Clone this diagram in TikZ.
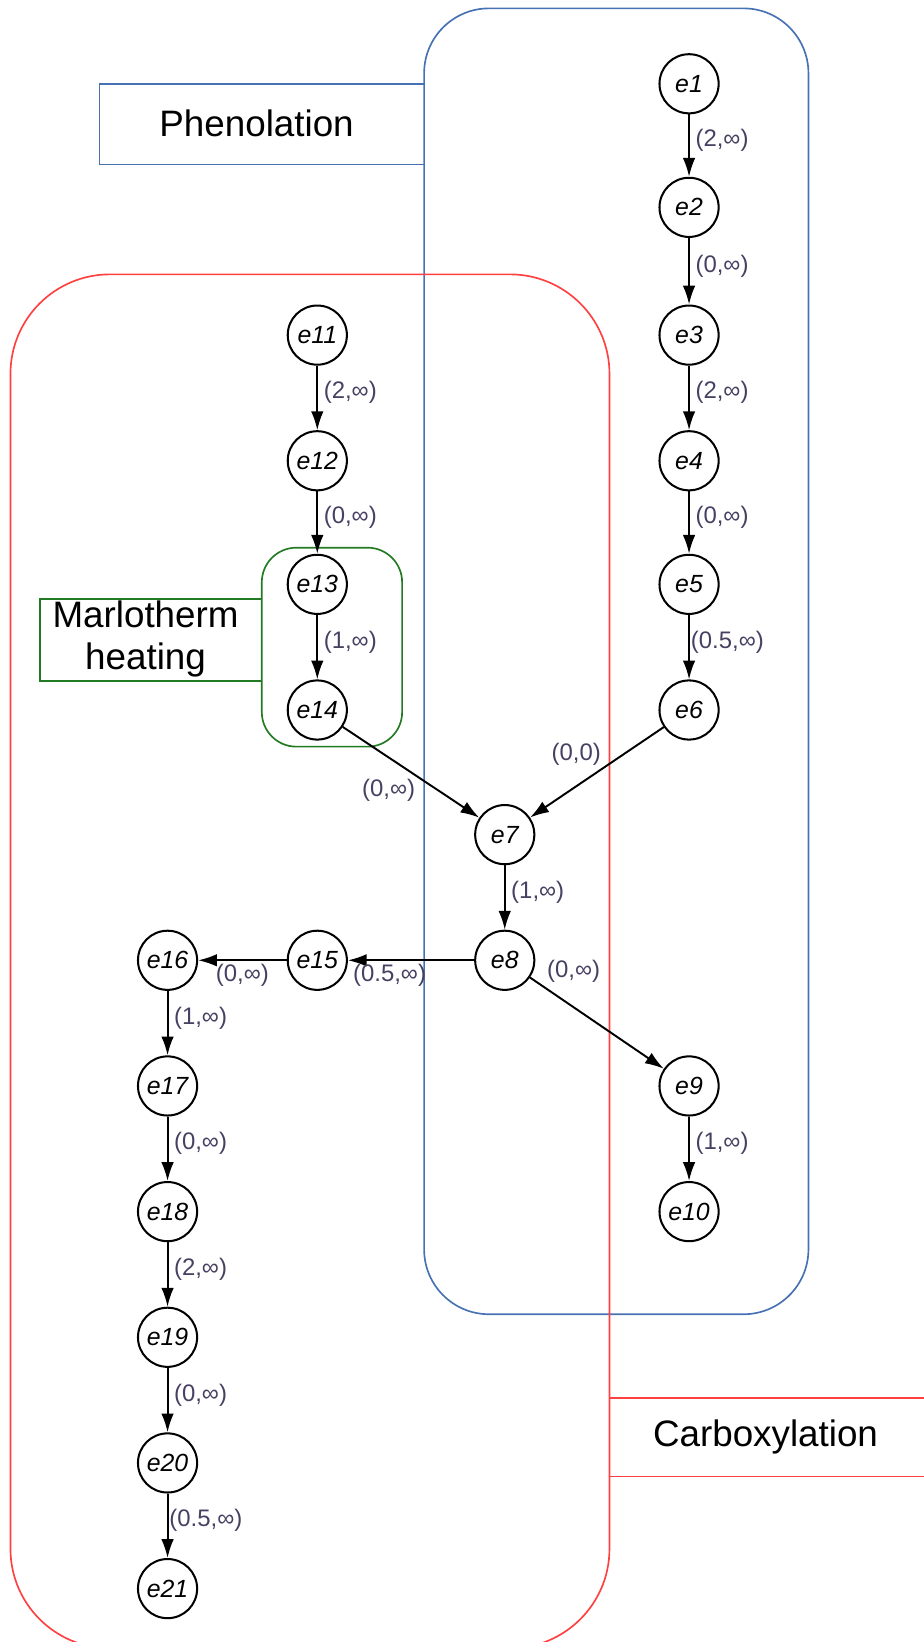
\documentclass[tikz,border=0pt]{standalone}
\usepackage{fontspec}
\setmainfont{Liberation Sans}
\usepackage{xcolor}
\usepackage{tikz}
\usetikzlibrary{arrows.meta}
\usetikzlibrary{positioning}
\definecolor{phenblue}{RGB}{70,114,180}
\definecolor{carbred}{RGB}{255,64,64}
\definecolor{heatgreen}{RGB}{34,122,34}
\definecolor{costtext}{RGB}{72,64,98}
\tikzstyle{ev}=[circle, draw, line width=1.1pt, fill=white, minimum size=1.13cm, inner sep=0pt, font=\fontsize{13.5}{15}\selectfont\itshape]
\tikzstyle{flow}=[-{Latex[length=3.6mm,width=2.4mm]}, line width=1.05pt]
\tikzstyle{cost}=[font=\fontsize{13}{15}\selectfont, text=costtext, inner sep=3pt]
\tikzstyle{stagetext}=[font=\fontsize{20}{23}\selectfont, align=center]
\newcommand{\grpline}{0.9pt}

\begin{document}
\begin{tikzpicture}[x=0.02cm, y=-0.02cm]
\useasboundingbox (0,0) rectangle (882,1568);
% process stages
\draw[phenblue, line width=\grpline, rounded corners=1.24cm] (405,8) rectangle (772,1255);
\draw[phenblue, line width=\grpline] (405,80) -- (95,80) -- (95,157) -- (405,157);
\node[stagetext] (phen) at (245,118) {Phenolation};
\draw[carbred, line width=\grpline, rounded corners=1.9cm] (10,262) rectangle (582,1574);
\draw[carbred, line width=\grpline] (582,1335) -- (900,1335);
\draw[carbred, line width=\grpline] (582,1410) -- (900,1410);
\node[stagetext] (carb) at (731,1372) {Carboxylation};
\draw[heatgreen, line width=\grpline, rounded corners=0.66cm] (250,523) rectangle (384,713);
\draw[heatgreen, line width=\grpline] (250,572) -- (38,572) -- (38,650) -- (250,650);
\node[stagetext, inner sep=0pt] (heat) at (139,610) {Marlotherm\\heating};
% events
\foreach \n/\x/\y in {e1/658/80, e2/658/198, e3/658/320, e4/658/440, e5/658/558, e6/658/678,
  e11/303/320, e12/303/440, e13/303/558, e14/303/678, e7/482/797, e8/482/917,
  e15/303/917, e16/160/917, e9/658/1037, e10/658/1157,
  e17/160/1037, e18/160/1157, e19/160/1277, e20/160/1397, e21/160/1517}
  \node[ev] (\n) at (\x,\y) {\n};
% precedences
\draw[flow] (e1) -- node[cost, right, pos=.42] {(2,∞)} (e2);
\draw[flow] (e2) -- node[cost, right, pos=.42] {(0,∞)} (e3);
\draw[flow] (e3) -- node[cost, right, pos=.42] {(2,∞)} (e4);
\draw[flow] (e4) -- node[cost, right, pos=.42] {(0,∞)} (e5);
\draw[flow] (e5) -- node[cost, right, pos=.42, inner sep=0.5pt] {(0.5,∞)} (e6);
\draw[flow] (e11) -- node[cost, right, pos=.42] {(2,∞)} (e12);
\draw[flow] (e12) -- node[cost, right, pos=.42] {(0,∞)} (e13);
\draw[flow] (e13) -- node[cost, right, pos=.42] {(1,∞)} (e14);
\draw[flow] (e14) -- node[cost, below left, pos=.55, inner sep=1pt] {(0,∞)} (e7);
\draw[flow] (e6) -- node[cost, above left, pos=.45, inner sep=1pt] {(0,0)} (e7);
\draw[flow] (e7) -- node[cost, right, pos=.42] {(1,∞)} (e8);
\draw[flow] (e8) -- node[cost, below, pos=.67, inner sep=1.5pt] {(0.5,∞)} (e15);
\draw[flow] (e15) -- node[cost, below, inner sep=1.5pt] {(0,∞)} (e16);
\draw[flow] (e8) -- node[cost, above right, pos=.1, inner sep=1.5pt] {(0,∞)} (e9);
\draw[flow] (e9) -- node[cost, right, pos=.42] {(1,∞)} (e10);
\draw[flow] (e16) -- node[cost, right, pos=.42] {(1,∞)} (e17);
\draw[flow] (e17) -- node[cost, right, pos=.42] {(0,∞)} (e18);
\draw[flow] (e18) -- node[cost, right, pos=.42] {(2,∞)} (e19);
\draw[flow] (e19) -- node[cost, right, pos=.42] {(0,∞)} (e20);
\draw[flow] (e20) -- node[cost, right, pos=.42, inner sep=0.5pt] {(0.5,∞)} (e21);
\end{tikzpicture}
\end{document}
